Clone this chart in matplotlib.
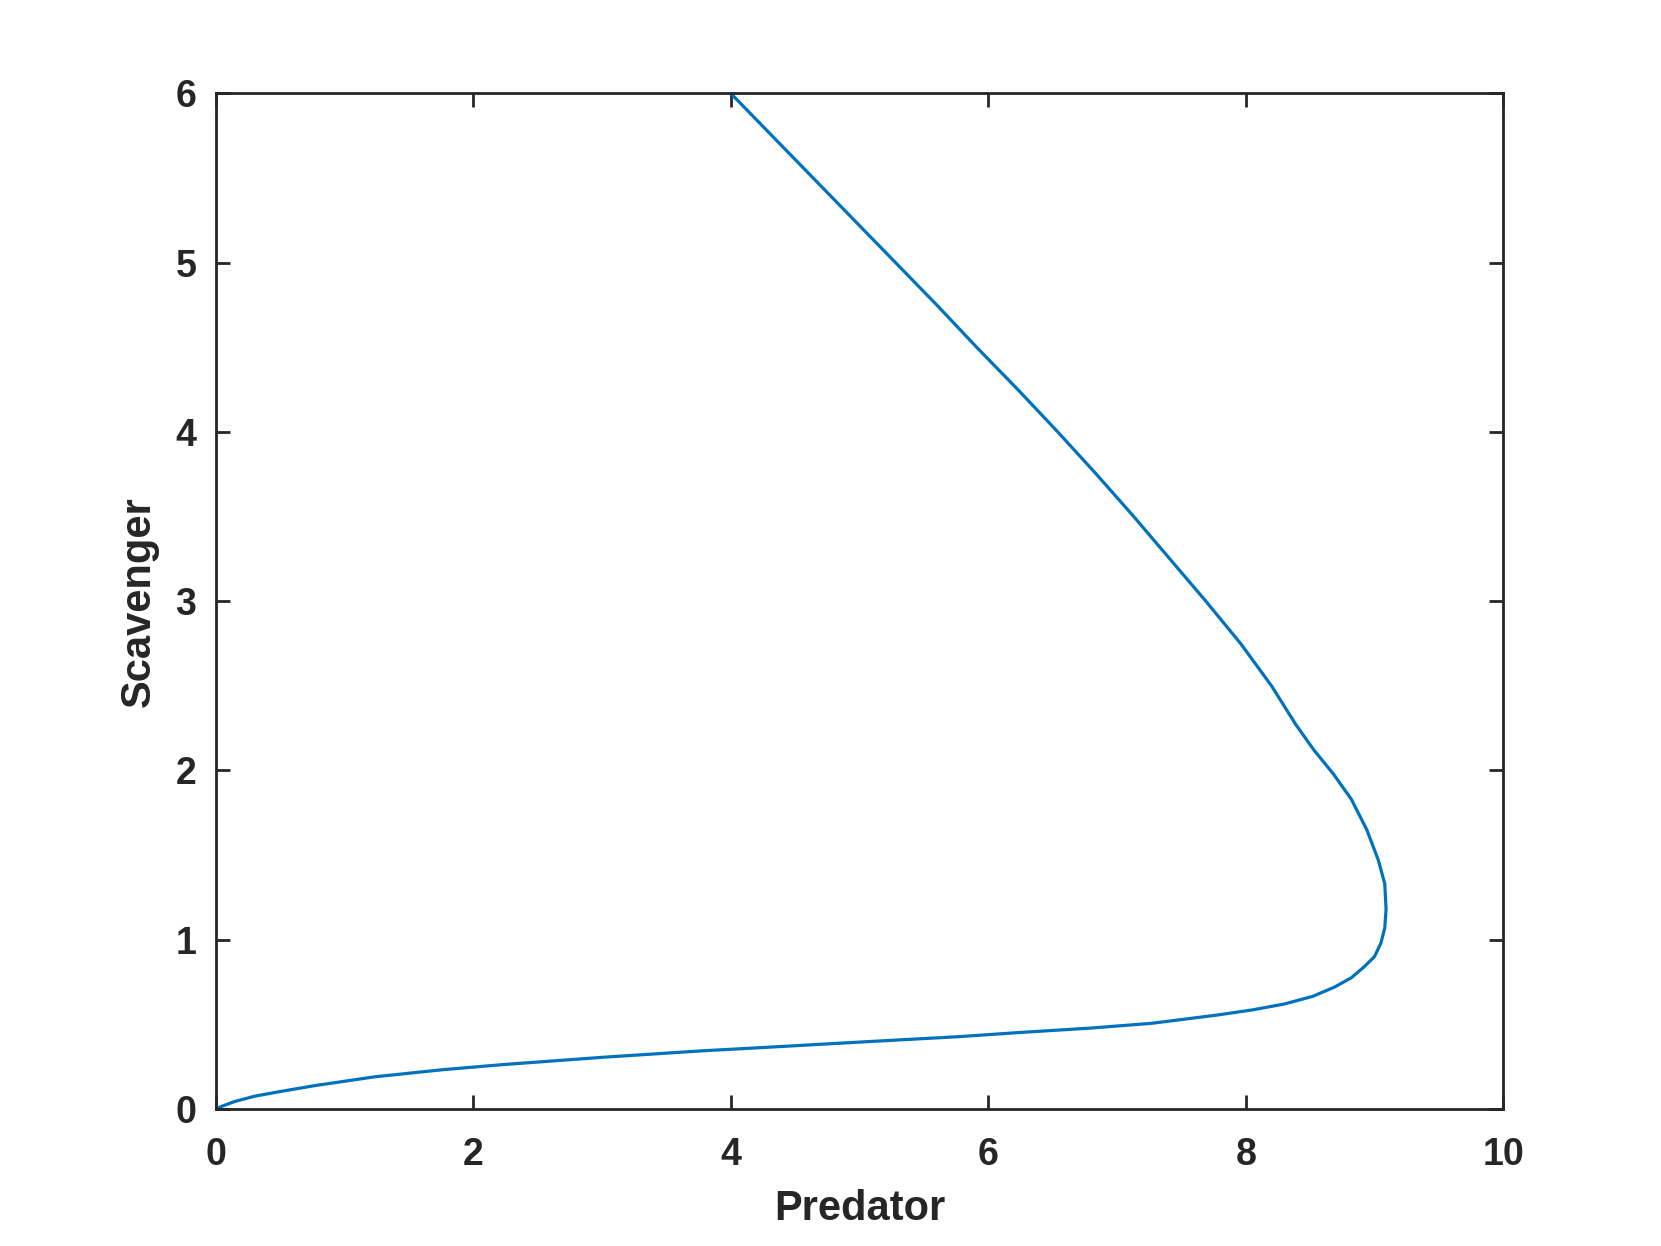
import matplotlib
matplotlib.use("Agg")
import matplotlib.pyplot as plt

# trajectory (Predator, Scavenger)
predator = [0.0, 0.05, 0.15, 0.3, 0.5, 0.77, 1.235, 1.764, 2.23, 3.0, 3.77, 4.23, 5.0,
            5.77, 6.23, 6.8, 7.27, 7.78, 8.05, 8.30, 8.52, 8.69, 8.82, 8.92, 9.00, 9.05,
            9.08, 9.09, 9.08, 9.03, 8.94, 8.82, 8.68, 8.53, 8.39, 8.20, 7.96, 7.69, 7.41,
            7.13, 6.84, 6.54, 6.23, 5.91, 5.60, 5.28, 4.96, 4.64, 4.32, 4.0]
scavenger = [0.0, 0.017, 0.045, 0.075, 0.103, 0.138, 0.19, 0.232, 0.262, 0.305, 0.343, 0.362, 0.395,
             0.427, 0.451, 0.478, 0.506, 0.555, 0.585, 0.62, 0.665, 0.72, 0.775, 0.84, 0.90, 0.98,
             1.07, 1.18, 1.33, 1.47, 1.65, 1.83, 1.98, 2.12, 2.27, 2.5, 2.75, 3.0, 3.25,
             3.5, 3.75, 4.0, 4.25, 4.5, 4.75, 5.0, 5.25, 5.5, 5.75, 6.0]

xticks = [0, 2, 4, 6, 8, 10]
yticks = [0, 1, 2, 3, 4, 5, 6]

plt.rcParams['font.family'] = ['Liberation Sans', 'DejaVu Sans']
plt.rcParams['font.weight'] = 'bold'

fig = plt.figure(figsize=(16.61, 12.46), dpi=100)
ax = fig.add_axes([0.13, 0.11, 0.775, 0.815])
ax.plot(predator, scavenger, color='#0072BD', linewidth=2.3)

ax.set_xlim(0, 10)
ax.set_ylim(0, 6)
ax.set_xticks(xticks)
ax.set_yticks(yticks)
ax.tick_params(direction='in', length=10, width=2, colors='#262626',
               labelsize=27, top=True, right=True)
ax.tick_params(axis='x', pad=20)
ax.tick_params(axis='y', pad=14)
for s in ax.spines.values():
    s.set_linewidth(2)
    s.set_color('#262626')

ax.set_xlabel('Predator', fontsize=30, fontweight='bold', color='#262626', labelpad=12)
ax.set_ylabel('Scavenger', fontsize=30, fontweight='bold', color='#262626', labelpad=12)

fig.savefig('out.png', dpi=100, facecolor='white')
